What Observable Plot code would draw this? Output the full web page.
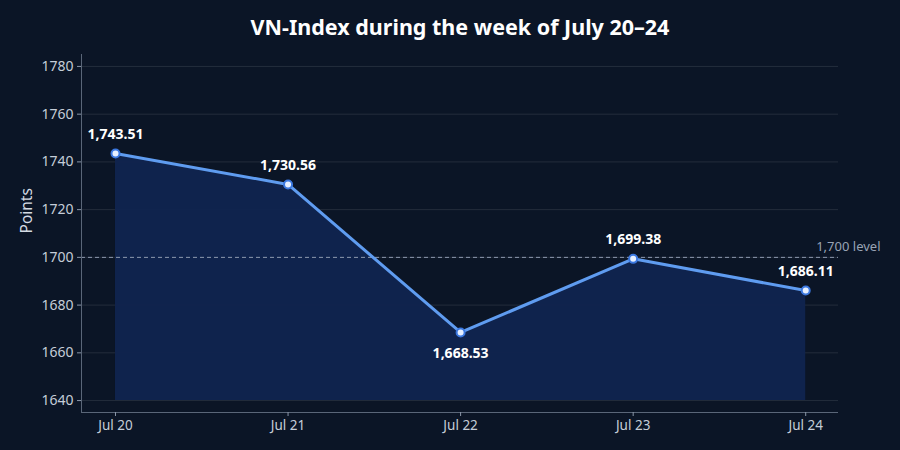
<!DOCTYPE html>
<html>
<head>
<meta charset="utf-8">
<script src="https://cdn.jsdelivr.net/npm/d3@7"></script>
<script src="https://cdn.jsdelivr.net/npm/@observablehq/plot@0.6"></script>
<style>
  html, body { margin: 0; padding: 0; background: #0b1526; }
  #chart { width: 900px; height: 450px; }
</style>
</head>
<body>
<div id="chart"></div>
<script>
const days = ["Jul 20", "Jul 21", "Jul 22", "Jul 23", "Jul 24"];
const closes = [1743.51, 1730.56, 1668.53, 1699.38, 1686.11];
const yTicks = [1640, 1660, 1680, 1700, 1720, 1740, 1760, 1780];
const refLevel = 1700;
const refLabel = "1,700 level";
const title = "VN-Index during the week of July 20–24";
const yLabel = "Points";

const data = days.map((d, i) => ({i, day: d, value: closes[i]}));
const minVal = d3.min(closes);
const fmt = d3.format(",.2f");
const xDom = [-0.197, 4.19];
const yDom = [1635, 1785];

const chart = Plot.plot({
  width: 900,
  height: 450,
  marginLeft: 81,
  marginRight: 62,
  marginTop: 54,
  marginBottom: 38,
  style: {background: "#0b1526", color: "#c5cdd8", fontFamily: "'Noto Sans', 'Open Sans', sans-serif", fontSize: "14px"},
  x: {type: "linear", domain: xDom, axis: null},
  y: {domain: yDom, axis: null},
  marks: [
    Plot.ruleY(yTicks, {stroke: "#ffffff", strokeOpacity: 0.1, strokeWidth: 1}),
    Plot.areaY(data, {x: "i", y1: yTicks[0], y2: "value", fill: "#10244f", fillOpacity: 0.95}),
    Plot.ruleY([refLevel], {stroke: "#8e9ab0", strokeWidth: 1, strokeDasharray: "4,3"}),
    Plot.text([refLabel], {x: xDom[1], y: refLevel, textAnchor: "end", dx: 42, dy: -11, fill: "#98a3b4", fontSize: 13}),
    Plot.line(data, {x: "i", y: "value", stroke: "#5f9cf0", strokeWidth: 3}),
    Plot.dot(data, {x: "i", y: "value", r: 4, fill: "#e6efff", stroke: "#3b78e0", strokeWidth: 2}),
    Plot.text(data.filter(d => d.value !== minVal), {x: "i", y: "value", text: d => fmt(d.value), dy: -19, fill: "#ffffff", fontWeight: "bold", fontSize: 14}),
    Plot.text(data.filter(d => d.value === minVal), {x: "i", y: "value", text: d => fmt(d.value), dy: 21, fill: "#ffffff", fontWeight: "bold", fontSize: 14}),
    Plot.ruleX([xDom[0]], {stroke: "#5a6678", strokeWidth: 1}),
    Plot.ruleY([yDom[0]], {stroke: "#5a6678", strokeWidth: 1}),
    Plot.axisY({ticks: yTicks, tickFormat: "d", tickSize: 4, stroke: "#8a96a8", label: null, fontSize: 14, tickPadding: 4}),
    Plot.axisX({ticks: d3.range(days.length), tickFormat: i => days[i], tickSize: 4, stroke: "#8a96a8", label: null, fontSize: 13.5, tickPadding: 4}),
    Plot.text([yLabel], {frameAnchor: "left", rotate: -90, dx: -54, fill: "#d5dbe4", fontSize: 15.5}),
    Plot.text([title], {frameAnchor: "top", dy: -26, fill: "#ffffff", fontWeight: "bold", fontSize: 21.5, dy: -35})
  ]
});
document.getElementById("chart").appendChild(chart);
</script>
</body>
</html>
